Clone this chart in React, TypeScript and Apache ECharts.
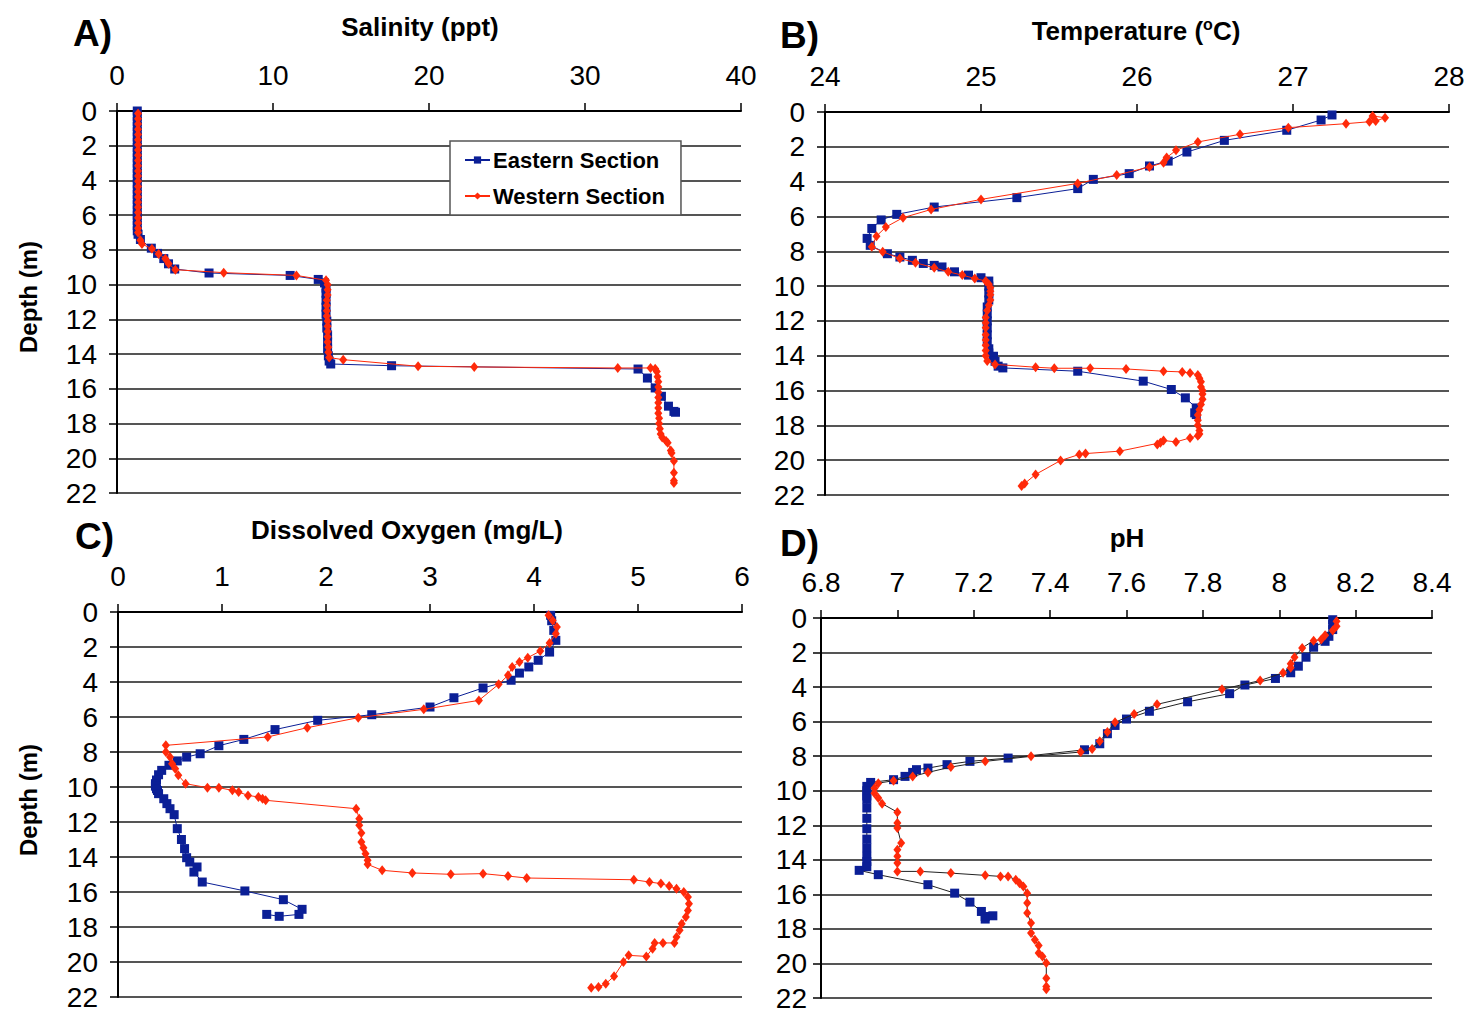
import React, { useEffect, useRef } from "react";
import * as echarts from "echarts";

// ---------- DATA: [depth (m), value] ----------
const salinityEast: number[][] = [
  [0, 1.3], [0.3, 1.3], [0.6, 1.3], [0.9, 1.3], [1.2, 1.3], [1.5, 1.3], [1.8, 1.3], [2.1, 1.3], [2.4, 1.3], [2.7, 1.3],
  [3.0, 1.3], [3.3, 1.3], [3.6, 1.3], [3.9, 1.3], [4.2, 1.3], [4.5, 1.3], [4.8, 1.3], [5.1, 1.3], [5.4, 1.3], [5.7, 1.3],
  [6.0, 1.3], [6.3, 1.3], [6.6, 1.3], [6.9, 1.3], [7.1, 1.35], [7.4, 1.5], [7.9, 2.2], [8.2, 2.6], [8.5, 3.0], [8.8, 3.3],
  [9.1, 3.7], [9.33, 5.9], [9.47, 11.1], [9.7, 12.9], [9.9, 13.3], [10.2, 13.4], [10.5, 13.4], [10.9, 13.4], [11.3, 13.4],
  [11.7, 13.4], [12.1, 13.45], [12.5, 13.45], [12.9, 13.5], [13.3, 13.5], [13.7, 13.5], [14.1, 13.55], [14.4, 13.6],
  [14.57, 13.7], [14.67, 17.6], [14.86, 33.4], [15.38, 34.0], [15.95, 34.5], [16.43, 34.9], [17.0, 35.35], [17.3, 35.7], [17.35, 35.8],
];
const salinityWest: number[][] = [
  [0.15, 1.35], [0.45, 1.35], [0.75, 1.35], [1.05, 1.35], [1.35, 1.35], [1.65, 1.35], [1.95, 1.35], [2.25, 1.35], [2.55, 1.35],
  [2.85, 1.35], [3.15, 1.35], [3.45, 1.35], [3.75, 1.35], [4.05, 1.35], [4.35, 1.35], [4.65, 1.35], [4.95, 1.35], [5.25, 1.35],
  [5.55, 1.35], [5.85, 1.35], [6.15, 1.35], [6.45, 1.35], [6.75, 1.35], [7.0, 1.35], [7.45, 1.5], [7.66, 1.6], [7.94, 2.24],
  [8.23, 2.67], [8.51, 3.1], [8.8, 3.31], [9.14, 3.74], [9.31, 6.84], [9.47, 11.5], [9.75, 13.4], [10.0, 13.5], [10.3, 13.5],
  [10.6, 13.5], [10.9, 13.45], [11.2, 13.45], [11.5, 13.45], [11.8, 13.45], [12.1, 13.5], [12.4, 13.5], [12.7, 13.5], [13.0, 13.5],
  [13.3, 13.5], [13.6, 13.55], [13.9, 13.55], [14.2, 13.6], [14.32, 14.5], [14.7, 19.3], [14.74, 22.9], [14.8, 32.1], [14.8, 34.2],
  [14.85, 34.5], [15.0, 34.6], [15.3, 34.65], [15.6, 34.7], [15.9, 34.7], [16.2, 34.7], [16.5, 34.7], [16.8, 34.7], [17.1, 34.7],
  [17.4, 34.7], [17.7, 34.75], [18.0, 34.75], [18.3, 34.8], [18.6, 34.85], [18.8, 34.95], [19.0, 35.2], [19.1, 35.3], [19.55, 35.5],
  [19.7, 35.55], [20.16, 35.7], [20.83, 35.7], [21.3, 35.7], [21.42, 35.7],
];

const temperatureEast: number[][] = [
  [0.17, 27.25], [0.46, 27.18], [1.05, 26.96], [1.63, 26.56], [2.3, 26.32], [2.82, 26.2], [3.1, 26.08], [3.54, 25.95],
  [3.87, 25.72], [4.4, 25.62], [4.92, 25.23], [5.46, 24.7], [5.88, 24.46], [6.2, 24.36], [6.69, 24.3], [7.26, 24.27],
  [7.66, 24.29], [8.14, 24.4], [8.33, 24.48], [8.52, 24.56], [8.7, 24.63], [8.81, 24.7], [8.9, 24.75], [9.18, 24.83],
  [9.37, 24.92], [9.52, 25.0], [9.71, 25.05], [10.0, 25.05], [10.4, 25.05], [10.8, 25.05], [11.2, 25.04], [11.6, 25.04],
  [12.0, 25.04], [12.4, 25.04], [12.8, 25.04], [13.2, 25.04], [13.6, 25.05], [13.84, 25.05], [14.03, 25.08], [14.32, 25.09],
  [14.6, 25.11], [14.7, 25.14], [14.89, 25.62], [15.46, 26.04], [15.94, 26.22], [16.42, 26.31], [17.0, 26.38], [17.28, 26.37], [17.38, 26.38],
];
const temperatureWest: number[][] = [
  [0.23, 27.51], [0.33, 27.59], [0.52, 27.53], [0.56, 27.49], [0.67, 27.34], [0.9, 26.97], [1.28, 26.66], [1.72, 26.39],
  [2.2, 26.25], [2.62, 26.19], [2.91, 26.17], [3.16, 26.08], [3.62, 25.87], [4.1, 25.62], [5.02, 25.0], [5.6, 24.68],
  [6.07, 24.5], [6.61, 24.39], [7.13, 24.33], [7.74, 24.3], [8.03, 24.37], [8.41, 24.48], [8.66, 24.58], [8.95, 24.7],
  [9.18, 24.79], [9.37, 24.88], [9.56, 24.96], [9.71, 25.03], [9.9, 25.05], [10.1, 25.06], [10.3, 25.06], [10.5, 25.06],
  [10.8, 25.06], [11.1, 25.05], [11.4, 25.04], [11.8, 25.03], [12.1, 25.03], [12.4, 25.03], [12.8, 25.03], [13.1, 25.03],
  [13.4, 25.03], [13.7, 25.03], [14.0, 25.03], [14.3, 25.04], [14.5, 25.09], [14.66, 25.35], [14.72, 25.47], [14.72, 25.7],
  [14.76, 25.93], [14.89, 26.17], [14.93, 26.29], [14.99, 26.34], [15.1, 26.39], [15.3, 26.4], [15.5, 26.41], [15.8, 26.41],
  [16.0, 26.42], [16.2, 26.42], [16.5, 26.42], [16.8, 26.41], [17.1, 26.4], [17.4, 26.39], [17.7, 26.39], [18.0, 26.39],
  [18.3, 26.4], [18.5, 26.4], [18.6, 26.39], [18.72, 26.34], [18.95, 26.25], [18.87, 26.17], [19.1, 26.13], [19.0, 26.15],
  [19.48, 25.89], [19.62, 25.67], [19.67, 25.63], [20.02, 25.51], [20.82, 25.35], [21.34, 25.28], [21.49, 25.26],
];

const oxygenEast: number[][] = [
  [0.19, 4.16], [0.5, 4.17], [1.05, 4.19], [1.62, 4.21], [2.29, 4.15], [2.76, 4.04], [3.14, 3.95], [3.49, 3.86], [3.9, 3.78],
  [4.34, 3.51], [4.9, 3.23], [5.43, 3.0], [5.87, 2.44], [6.19, 1.92], [6.72, 1.51], [7.28, 1.21], [7.64, 0.97], [8.1, 0.79],
  [8.29, 0.66], [8.51, 0.57], [8.76, 0.49], [9.05, 0.42], [9.3, 0.39], [9.6, 0.37], [9.81, 0.36], [9.95, 0.36], [10.1, 0.37],
  [10.2, 0.38], [10.38, 0.39], [10.67, 0.44], [10.95, 0.47], [11.24, 0.5], [11.58, 0.54], [12.38, 0.57], [13.0, 0.61],
  [13.52, 0.64], [14.04, 0.66], [14.29, 0.69], [14.57, 0.76], [14.86, 0.73], [15.43, 0.81], [15.94, 1.22], [16.44, 1.59],
  [16.99, 1.77], [17.28, 1.74], [17.39, 1.55], [17.28, 1.43],
];
const oxygenWest: number[][] = [
  [0.19, 4.14], [0.48, 4.18], [0.86, 4.22], [1.24, 4.21], [1.77, 4.15], [2.23, 4.06], [2.61, 3.94], [2.86, 3.86], [3.14, 3.79],
  [3.62, 3.75], [4.13, 3.66], [5.05, 3.47], [5.56, 2.94], [6.04, 2.31], [6.61, 1.82], [7.14, 1.44], [7.62, 0.46], [8.0, 0.46],
  [8.29, 0.5], [8.67, 0.52], [8.95, 0.55], [9.33, 0.58], [9.81, 0.65], [10.04, 0.86], [10.04, 0.97], [10.19, 1.1], [10.29, 1.16],
  [10.48, 1.25], [10.57, 1.35], [10.67, 1.39], [10.76, 1.42], [11.24, 2.29], [11.81, 2.32], [12.19, 2.32], [12.63, 2.34],
  [13.14, 2.34], [13.47, 2.36], [13.81, 2.38], [14.19, 2.4], [14.42, 2.4], [14.76, 2.54], [14.91, 2.83], [14.99, 3.2],
  [14.95, 3.51], [15.09, 3.75], [15.2, 3.93], [15.3, 4.96], [15.43, 5.11], [15.52, 5.22], [15.66, 5.3], [15.81, 5.37],
  [16.0, 5.44], [16.29, 5.48], [16.67, 5.49], [17.05, 5.48], [17.43, 5.46], [17.81, 5.42], [18.19, 5.4], [18.57, 5.37],
  [18.91, 5.35], [18.91, 5.24], [18.91, 5.16], [19.24, 5.14], [19.68, 5.08], [19.62, 4.91], [20.0, 4.86], [20.82, 4.77],
  [21.24, 4.69], [21.43, 4.62], [21.47, 4.55],
];

const phEast: number[][] = [
  [0.1, 8.14], [0.38, 8.14], [0.67, 8.14], [1.06, 8.13], [1.35, 8.12], [1.69, 8.09], [2.27, 8.07], [2.79, 8.05], [3.17, 8.03],
  [3.5, 7.99], [3.88, 7.91], [4.38, 7.87], [4.85, 7.76], [5.4, 7.66], [5.85, 7.6], [6.22, 7.57], [6.7, 7.55], [7.28, 7.53],
  [7.63, 7.49], [8.11, 7.29], [8.3, 7.19], [8.49, 7.13], [8.69, 7.08], [8.78, 7.05], [8.94, 7.04], [9.17, 7.02], [9.36, 6.99],
  [9.52, 6.93], [9.75, 6.92], [10.0, 6.92], [10.3, 6.92], [10.5, 6.92], [11.0, 6.92], [11.6, 6.92], [12.2, 6.92], [12.8, 6.92],
  [13.3, 6.92], [13.8, 6.92], [14.1, 6.92], [14.4, 6.92], [14.61, 6.9], [14.86, 6.95], [15.44, 7.08], [15.93, 7.15],
  [16.45, 7.19], [16.99, 7.22], [17.28, 7.23], [17.43, 7.23], [17.24, 7.25],
];
const phWest: number[][] = [
  [0.19, 8.15], [0.48, 8.15], [0.73, 8.14], [1.0, 8.12], [1.25, 8.11], [1.31, 8.09], [1.73, 8.06], [2.27, 8.04], [2.65, 8.03],
  [2.88, 8.03], [3.17, 8.01], [3.62, 7.95], [4.13, 7.85], [5.0, 7.68], [5.56, 7.62], [6.04, 7.57], [6.6, 7.55], [7.14, 7.53],
  [7.59, 7.51], [7.76, 7.48], [8.01, 7.35], [8.3, 7.23], [8.63, 7.14], [8.94, 7.08], [9.17, 7.04], [9.42, 6.99], [9.56, 6.95],
  [9.85, 6.94], [10.14, 6.94], [10.42, 6.95], [10.75, 6.96], [11.24, 7.0], [11.87, 7.0], [12.16, 7.0], [13.03, 7.01],
  [13.42, 7.0], [13.8, 7.0], [14.19, 7.0], [14.67, 7.0], [14.67, 7.06], [14.77, 7.14], [14.9, 7.23], [14.96, 7.27],
  [14.96, 7.29], [15.15, 7.31], [15.35, 7.32], [15.54, 7.33], [15.93, 7.34], [16.5, 7.34], [17.08, 7.34], [17.66, 7.35],
  [18.24, 7.35], [18.63, 7.36], [18.96, 7.37], [19.4, 7.37], [19.6, 7.38], [19.98, 7.39], [20.85, 7.39], [21.33, 7.39], [21.49, 7.39],
];

const panelLetters = ["A)", "B)", "C)", "D)"];
const panelTitles = ["Salinity (ppt)", "Temperature (", "Dissolved Oxygen (mg/L)", "pH"];
const depthTitle = "Depth (m)";
const seriesNames = ["Eastern Section", "Western Section"];
const xRanges = [
  { min: 0, max: 40, interval: 10 },
  { min: 24, max: 28, interval: 1 },
  { min: 0, max: 6, interval: 1 },
  { min: 6.8, max: 8.4, interval: 0.2 },
];
const depthRange = { min: 0, max: 22, interval: 2 };

// ---------- STYLE ----------
const FONT = '"Liberation Sans", Arial, Helvetica, sans-serif';
const BLUE = "#0b1f96";
const RED = "#ff2a0a";
const grids = [
  { left: 117, top: 111, width: 624, height: 382 },
  { left: 825, top: 112, width: 624, height: 383 },
  { left: 118, top: 612, width: 624, height: 385 },
  { left: 821, top: 618, width: 611, height: 380 },
];

export default function App() {
  const ref = useRef<HTMLDivElement>(null);
  useEffect(() => {
    if (!ref.current) return;
    const chart = echarts.init(ref.current, null, { renderer: "svg" });
    const toXY = (arr: number[][]) => arr.map((d) => [d[1], d[0]]);

    const xAxis = xRanges.map((r, i) => ({
      type: "value",
      gridIndex: i,
      position: "top",
      min: r.min,
      max: r.max,
      interval: r.interval,
      axisLine: { show: true, lineStyle: { color: "#000", width: 2 } },
      axisTick: { show: true, length: 8, lineStyle: { color: "#000", width: 1.5 } },
      axisLabel: {
        margin: 22,
        fontSize: 28,
        color: "#000",
        fontFamily: FONT,
        formatter: (v: number) => String(Math.round(v * 10) / 10),
      },
      splitLine: { show: false },
    }));
    const yAxis = grids.map((_, i) => ({
      type: "value",
      gridIndex: i,
      inverse: true,
      min: depthRange.min,
      max: depthRange.max,
      interval: depthRange.interval,
      axisLine: { show: true, lineStyle: { color: "#000", width: 2 } },
      axisTick: { show: true, length: 8, lineStyle: { color: "#000", width: 1.5 } },
      axisLabel: { margin: i === 3 ? 14 : 20, fontSize: 28, color: "#000", fontFamily: FONT },
      splitLine: { show: true, lineStyle: { color: "#555", width: 2 } },
    }));

    const mk = (name: string, data: number[][], idx: number, color: string, east: boolean, lineColor?: string) => ({
      name,
      type: "line",
      xAxisIndex: idx,
      yAxisIndex: idx,
      data: toXY(data),
      symbol: east ? "rect" : "diamond",
      symbolSize: east ? 9 : [8, 10],
      showSymbol: true,
      clip: false,
      lineStyle: { color: lineColor || color, width: 1 },
      itemStyle: { color },
      emphasis: { disabled: true },
      z: east ? 3 : 4,
    });

    const series = [
      mk(seriesNames[0], salinityEast, 0, BLUE, true),
      mk(seriesNames[1], salinityWest, 0, RED, false),
      mk("Eastern (T)", temperatureEast, 1, BLUE, true),
      mk("Western (T)", temperatureWest, 1, RED, false),
      mk("Eastern (DO)", oxygenEast, 2, BLUE, true),
      mk("Western (DO)", oxygenWest, 2, RED, false),
      mk("Eastern (pH)", phEast, 3, BLUE, true, "#222"),
      mk("Western (pH)", phWest, 3, RED, false, "#222"),
    ];

    const letterPos = [
      [73, 33],
      [780, 35],
      [75, 536],
      [780, 543],
    ];
    const titlePos = [
      [420, 27],
      [1136, 30],
      [407, 530],
      [1127, 538],
    ];
    const graphic: any[] = [];
    panelLetters.forEach((t, i) => {
      graphic.push({
        type: "text",
        x: letterPos[i][0],
        y: letterPos[i][1],
        style: { text: t, font: `bold 37px ${FONT}`, fill: "#000", textAlign: "left", textVerticalAlign: "middle" },
      });
    });
    panelTitles.forEach((t, i) => {
      if (i === 1) {
        graphic.push({
          type: "text",
          x: titlePos[i][0],
          y: titlePos[i][1],
          style: {
            text: `{a|${t}}{s|o}{a|C)}`,
            rich: {
              a: { font: `bold 26px ${FONT}`, fill: "#000", verticalAlign: "bottom", lineHeight: 28 },
              s: { font: `bold 16px ${FONT}`, fill: "#000", verticalAlign: "bottom", lineHeight: 28, padding: [0, 0, 12, 0] },
            },
            textAlign: "center",
            textVerticalAlign: "middle",
          },
        });
      } else {
        graphic.push({
          type: "text",
          x: titlePos[i][0],
          y: titlePos[i][1],
          style: { text: t, font: `bold 26px ${FONT}`, fill: "#000", textAlign: "center", textVerticalAlign: "middle" },
        });
      }
    });
    [[28, 297], [28, 800]].forEach((p) => {
      graphic.push({
        type: "text",
        x: p[0],
        y: p[1],
        rotation: Math.PI / 2,
        style: { text: depthTitle, font: `bold 24px ${FONT}`, fill: "#000", textAlign: "center", textVerticalAlign: "middle" },
      });
    });

    chart.setOption({
      animation: false,
      backgroundColor: "#fff",
      grid: grids.map((g) => ({ ...g, containLabel: false })),
      xAxis,
      yAxis,
      legend: {
        data: seriesNames,
        orient: "vertical",
        left: 450,
        top: 141,
        padding: [8, 16, 8, 14],
        itemGap: 14,
        itemWidth: 25,
        itemHeight: 9,
        backgroundColor: "#fff",
        borderColor: "#555",
        borderWidth: 1.5,
        selectedMode: false,
        textStyle: { fontFamily: FONT, fontWeight: "bold", fontSize: 22, color: "#000", padding: [0, 0, 0, -2] },
      },
      graphic,
      series,
    });
    return () => chart.dispose();
  }, []);
  return <div ref={ref} style={{ position: "absolute", left: 0, top: 0, width: 1469, height: 1013 }} />;
}
